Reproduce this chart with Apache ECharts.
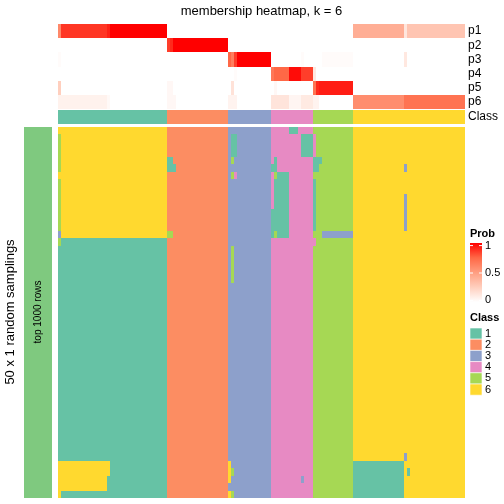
<!DOCTYPE html>
<html><head><meta charset="utf-8">
<script src="https://cdn.jsdelivr.net/npm/echarts@6/dist/echarts.min.js"></script>
<style>html,body{margin:0;padding:0;background:#fff}#c{width:504px;height:504px}</style>
</head><body><div id="c"></div>
<script>
// ---- data ----
const classSizes = [36, 20, 14, 14, 13, 37];
const classColors = ['#66C2A5', '#FC8D62', '#8DA0CB', '#E78AC3', '#A6D854', '#FFD92F'];
const classNames = ['1', '2', '3', '4', '5', '6'];
const probLabels = ['p1', 'p2', 'p3', 'p4', 'p5', 'p6'];
// [firstCol, lastCol, probability]
const p1Runs = [[0,0,0.6],[1,15,0.87],[16,16,0.92],[17,35,1],[97,113,0.42],[114,114,0.13],[115,133,0.3]];
const p2Runs = [[36,36,0.85],[37,37,0.9],[38,55,1]];
const p3Runs = [[0,0,0.02],[56,56,0.75],[57,57,0.65],[58,58,0.85],[59,69,1],[80,80,0.02],[87,96,0.02],[114,114,0.12]];
const p4Runs = [[58,58,0.02],[70,70,0.68],[71,75,0.75],[76,79,0.97],[80,83,0.85],[84,84,0.12]];
const p5Runs = [[0,0,0.25],[36,37,0.04],[57,57,0.15],[71,71,0.04],[84,84,0.7],[85,85,0.9],[86,96,0.93]];
const p6Runs = [[0,15,0.07],[16,16,0.03],[36,38,0.04],[56,58,0.06],[70,75,0.14],[76,79,0.05],[80,83,0.11],[84,85,0.06],[97,113,0.58],[114,133,0.7]];
const nSamplings = 50;
// [firstRow, lastRow, firstCol, lastCol, class]
const mainPatches = [
  [0,14,0,35,6],[1,5,0,0,5],[7,13,0,0,5],[14,14,0,0,3],[15,15,0,0,5],
  [45,46,0,16,6],[47,48,0,15,6],[49,49,0,0,6],
  [4,4,36,37,1],[5,5,36,38,1],[14,14,36,37,5],
  [1,3,57,58,1],[4,4,57,57,5],[6,6,57,57,5],[6,6,58,58,4],[16,20,57,57,5],
  [45,47,56,56,6],[46,46,57,57,5],[49,49,56,56,6],[49,49,57,57,5],
  [0,0,76,78,1],[1,3,80,83,1],[4,4,71,71,1],[5,5,70,71,1],[6,6,71,71,5],[6,6,72,75,1],
  [7,13,71,75,1],[11,14,70,70,1],[14,14,71,71,5],[14,14,72,75,1],[47,47,80,80,3],
  [1,3,84,84,4],[4,4,84,86,1],[5,5,84,85,1],[7,13,84,84,1],[14,14,87,96,3],[15,15,84,84,4],
  [5,5,114,114,3],[9,13,114,114,3],[44,44,114,114,3],[45,49,97,113,1],[46,46,115,115,1]
];
const probTicks = ['1', '0.5', '0'];
const probStops = ['#FFFFFF', '#FFCFBE', '#FF9E81', '#FF6846', '#FF0000'];

// ---- build ----
function hex(c) { return [1, 3, 5].map(i => parseInt(c.slice(i, i + 2), 16)); }
function ramp(v) {
  const n = probStops.length - 1, t = Math.max(0, Math.min(1, v)) * n;
  const i = Math.min(n - 1, Math.floor(t)), f = t - i;
  const a = hex(probStops[i]), b = hex(probStops[i + 1]);
  return 'rgb(' + a.map((x, k) => Math.round(x + (b[k] - x) * f)).join(',') + ')';
}
// merge a row of values into [c0, c1, row, value] runs
function toRuns(arr, r, out) {
  let s = 0;
  for (let c = 1; c <= arr.length; c++) {
    if (c === arr.length || arr[c] !== arr[s]) { out.push([s, c - 1, r, arr[s]]); s = c; }
  }
}

const nCols = classSizes.reduce((a, b) => a + b, 0);
const colClass = [];
classSizes.forEach((n, i) => { for (let k = 0; k < n; k++) colClass.push(i + 1); });
const cols = colClass.map((_, i) => String(i));

const probRuns = [p1Runs, p2Runs, p3Runs, p4Runs, p5Runs, p6Runs];
const probData = [];
probRuns.forEach((runs, r) => {
  const row = new Array(nCols).fill(0);
  runs.forEach(([a, b, v]) => { for (let c = a; c <= b; c++) row[c] = v; });
  toRuns(row, r, probData);
});
const classData = [];
toRuns(colClass, 0, classData);

const mainData = [];
const rows = [];
for (let r = 0; r < nSamplings; r++) {
  rows.push(String(r));
  const row = colClass.slice();
  mainPatches.forEach(([r0, r1, c0, c1, k]) => {
    if (r >= r0 && r <= r1) for (let c = c0; c <= c1; c++) row[c] = k;
  });
  toRuns(row, r, mainData);
}

const snap = (v) => Math.round(v + 0.001);
function makeRender(colorOf) {
  return function (params, api) {
    const c0 = api.value(0), c1 = api.value(1), r = api.value(2), v = api.value(3);
    const a = api.coord([c0, r]), b = api.coord([c1, r]);
    const s = api.size([1, 1]);
    const x0 = snap(a[0] - s[0] / 2), x1 = snap(b[0] + s[0] / 2);
    const y0 = snap(a[1] - s[1] / 2), y1 = snap(a[1] + s[1] / 2);
    return { type: 'rect', shape: { x: x0, y: y0, width: x1 - x0, height: y1 - y0 }, style: { fill: colorOf(v) } };
  };
}
const classColor = (k) => classColors[k - 1];

const L = 58, W = 407;
const hiddenX = (gi) => ({ type: 'category', gridIndex: gi, data: cols, show: false });
const font = 'Liberation Sans, Arial, sans-serif';

const graphic = [
  { type: 'text', x: L + W / 2, y: 11, style: { text: 'membership heatmap, k = 6', fontSize: 13, fontFamily: font, fill: '#000', align: 'center', verticalAlign: 'middle' } },
  { type: 'rect', shape: { x: 24, y: 127, width: 28, height: 371 }, style: { fill: '#7FC97F' } },
  { type: 'text', x: 38, y: 312, rotation: Math.PI / 2, style: { text: 'top 1000 rows', fontSize: 10, fontFamily: font, fill: '#000', align: 'center', verticalAlign: 'middle' } },
  { type: 'text', x: 10, y: 312, rotation: Math.PI / 2, style: { text: '50 x 1 random samplings', fontSize: 13, fontFamily: font, fill: '#000', align: 'center', verticalAlign: 'middle' } },
  { type: 'text', x: 470, y: 234, style: { text: 'Prob', fontSize: 11, fontWeight: 'bold', fontFamily: font, fill: '#000', align: 'left', verticalAlign: 'middle' } },
  { type: 'rect', shape: { x: 470, y: 243, width: 12, height: 59 }, style: { fill: new echarts.graphic.LinearGradient(0, 0, 0, 1,
      probStops.slice().reverse().map((c, i) => ({ offset: i / (probStops.length - 1), color: c }))) } },
  { type: 'text', x: 470, y: 318, style: { text: 'Class', fontSize: 11, fontWeight: 'bold', fontFamily: font, fill: '#000', align: 'left', verticalAlign: 'middle' } }
];
const tickY = [245.6, 273, 300.4];
probTicks.forEach((t, i) => {
  graphic.push({ type: 'line', shape: { x1: 470, y1: tickY[i], x2: 473, y2: tickY[i] }, style: { stroke: '#fff', lineWidth: 1 } });
  graphic.push({ type: 'line', shape: { x1: 479, y1: tickY[i], x2: 482, y2: tickY[i] }, style: { stroke: '#fff', lineWidth: 1 } });
  graphic.push({ type: 'text', x: 485, y: tickY[i], style: { text: t, fontSize: 11, fontFamily: font, fill: '#000', align: 'left', verticalAlign: 'middle' } });
});
classNames.forEach((n, i) => {
  const y = 328 + i * 11.2;
  graphic.push({ type: 'rect', shape: { x: 470, y: y, width: 12, height: 11.2 }, style: { fill: classColors[i], stroke: '#fff', lineWidth: 0.6 } });
  graphic.push({ type: 'text', x: 485, y: y + 5.6, style: { text: n, fontSize: 11, fontFamily: font, fill: '#000', align: 'left', verticalAlign: 'middle' } });
});

const chart = echarts.init(document.getElementById('c'), null, { renderer: 'canvas' });
chart.setOption({
  animation: false,
  textStyle: { fontFamily: font },
  grid: [
    { left: L, width: W, top: 24, height: 85, containLabel: false, outerBoundsMode: 'none' },
    { left: L, width: W, top: 110, height: 14, containLabel: false, outerBoundsMode: 'none' },
    { left: L, width: W, top: 127, height: 371, containLabel: false, outerBoundsMode: 'none' }
  ],
  xAxis: [hiddenX(0), hiddenX(1), hiddenX(2)],
  yAxis: [
    { type: 'category', gridIndex: 0, data: probLabels, inverse: true, position: 'right',
      axisLine: { show: false }, axisTick: { show: false }, splitLine: { show: false },
      axisLabel: { interval: 0, margin: 3, fontSize: 12, color: '#000', fontFamily: font } },
    { type: 'category', gridIndex: 1, data: ['Class'], position: 'right',
      axisLine: { show: false }, axisTick: { show: false }, splitLine: { show: false },
      axisLabel: { interval: 0, margin: 3, fontSize: 12, color: '#000', fontFamily: font } },
    { type: 'category', gridIndex: 2, data: rows, inverse: true, show: false }
  ],
  series: [
    { type: 'custom', xAxisIndex: 0, yAxisIndex: 0, data: probData, encode: { x: [0, 1], y: 2 }, renderItem: makeRender(ramp), silent: true },
    { type: 'custom', xAxisIndex: 1, yAxisIndex: 1, data: classData, encode: { x: [0, 1], y: 2 }, renderItem: makeRender(classColor), silent: true },
    { type: 'custom', xAxisIndex: 2, yAxisIndex: 2, data: mainData, encode: { x: [0, 1], y: 2 }, renderItem: makeRender(classColor), silent: true }
  ],
  graphic: graphic
});
</script></body></html>
